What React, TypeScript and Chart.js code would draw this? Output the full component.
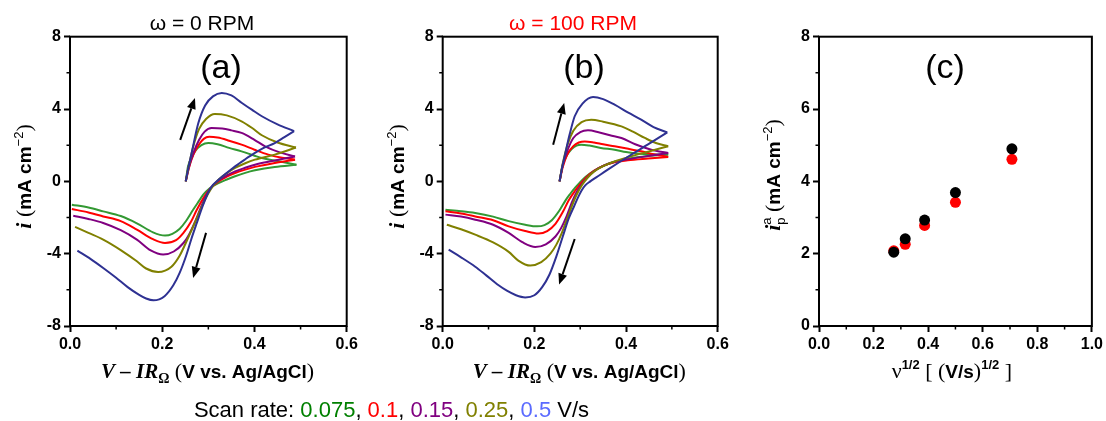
import React, { useEffect, useRef } from 'react';
import { Chart, registerables } from 'chart.js';
Chart.register(...registerables);

type P = [number, number][];

const SCAN_RATES = ['0.075', '0.1', '0.15', '0.25', '0.5'];
const CURVE_COLORS = ['#339933', '#ff0000', '#800080', '#808000', '#2e3192'];
const LEGEND_COLORS = ['#008000', '#ff0000', '#800080', '#808000', '#5b6bff'];

// ---------- Panel (a): omega = 0 RPM ----------
const A_GREEN_FWD: P = [[0.251, 0], [0.256, 0.83], [0.264, 1.3], [0.271, 1.66], [0.285, 2.0], [0.3, 2.12], [0.32, 2.05], [0.345, 1.85], [0.372, 1.66], [0.4, 1.42], [0.416, 1.29], [0.45, 1.12], [0.491, 0.92]];
const A_GREEN_REV: P = [[0.491, 0.92], [0.444, 0.8], [0.401, 0.61], [0.38, 0.47], [0.358, 0.28], [0.34, 0.1], [0.322, -0.1], [0.303, -0.38], [0.289, -0.74], [0.278, -1.15], [0.267, -1.57], [0.252, -2.18], [0.238, -2.62], [0.222, -2.9], [0.206, -3.0], [0.18, -2.82], [0.145, -2.32], [0.11, -1.92], [0.072, -1.66], [0.04, -1.45], [0.004, -1.29]];
const A_RED_FWD: P = [[0.251, 0], [0.258, 0.75], [0.268, 1.5], [0.28, 2.05], [0.29, 2.35], [0.302, 2.46], [0.32, 2.42], [0.345, 2.25], [0.372, 2.03], [0.4, 1.75], [0.43, 1.48], [0.46, 1.3], [0.488, 1.2]];
const A_RED_REV: P = [[0.488, 1.2], [0.444, 1.02], [0.401, 0.8], [0.38, 0.65], [0.358, 0.46], [0.34, 0.26], [0.322, 0.0], [0.305, -0.38], [0.29, -0.9], [0.275, -1.57], [0.262, -2.25], [0.246, -2.85], [0.23, -3.25], [0.206, -3.41], [0.18, -3.2], [0.145, -2.67], [0.11, -2.2], [0.072, -1.94], [0.04, -1.72], [0.004, -1.53]];
const A_PURPLE_FWD: P = [[0.251, 0], [0.258, 0.8], [0.268, 1.6], [0.28, 2.3], [0.292, 2.75], [0.307, 2.95], [0.33, 2.92], [0.35, 2.82], [0.372, 2.68], [0.4, 2.3], [0.423, 1.94], [0.455, 1.6], [0.488, 1.38]];
const A_PURPLE_REV: P = [[0.488, 1.38], [0.444, 1.15], [0.401, 0.92], [0.38, 0.75], [0.358, 0.55], [0.34, 0.33], [0.322, 0.05], [0.306, -0.35], [0.293, -0.9], [0.282, -1.55], [0.27, -2.3], [0.258, -2.95], [0.246, -3.41], [0.225, -3.88], [0.202, -4.05], [0.175, -3.82], [0.145, -3.22], [0.11, -2.7], [0.072, -2.3], [0.04, -2.08], [0.007, -1.9]];
const A_OLIVE_FWD: P = [[0.251, 0], [0.258, 0.9], [0.267, 1.9], [0.28, 2.9], [0.295, 3.45], [0.314, 3.73], [0.34, 3.65], [0.372, 3.32], [0.395, 2.95], [0.416, 2.55], [0.45, 2.15], [0.49, 1.87]];
const A_OLIVE_REV: P = [[0.49, 1.87], [0.444, 1.48], [0.401, 1.2], [0.38, 1.0], [0.358, 0.74], [0.34, 0.45], [0.322, 0.09], [0.306, -0.4], [0.293, -1.0], [0.28, -1.75], [0.268, -2.45], [0.253, -3.3], [0.238, -4.1], [0.22, -4.72], [0.191, -5.01], [0.165, -4.82], [0.145, -4.42], [0.11, -3.8], [0.072, -3.22], [0.04, -2.85], [0.011, -2.52]];
const A_BLUE_FWD: P = [[0.251, 0], [0.257, 0.8], [0.264, 1.6], [0.278, 3.2], [0.293, 4.2], [0.31, 4.7], [0.329, 4.89], [0.35, 4.75], [0.372, 4.35], [0.395, 3.95], [0.416, 3.6], [0.45, 3.15], [0.486, 2.78]];
const A_BLUE_REV: P = [[0.486, 2.78], [0.465, 2.45], [0.444, 2.12], [0.42, 1.85], [0.401, 1.57], [0.38, 1.22], [0.358, 0.83], [0.34, 0.47], [0.322, 0.09], [0.31, -0.2], [0.3, -0.6], [0.288, -1.35], [0.275, -2.3], [0.263, -3.2], [0.252, -4.1], [0.238, -5.05], [0.224, -5.75], [0.205, -6.35], [0.181, -6.58], [0.165, -6.48], [0.15, -6.28], [0.125, -5.85], [0.1, -5.33], [0.072, -4.79], [0.045, -4.3], [0.016, -3.83]];
const A_ARROWS: [number, number, number, number][] = [[0.239, 2.29, 0.271, 4.61], [0.295, -2.85, 0.267, -5.34]];

// ---------- Panel (b): omega = 100 RPM ----------
const B_GREEN_FWD: P = [[0.255, 0], [0.261, 0.8], [0.27, 1.4], [0.282, 1.8], [0.292, 1.98], [0.302, 2.03], [0.32, 1.98], [0.345, 1.85], [0.375, 1.75], [0.4, 1.62], [0.418, 1.55], [0.455, 1.5], [0.492, 1.48]];
const B_GREEN_REV: P = [[0.492, 1.48], [0.448, 1.4], [0.404, 1.25], [0.375, 1.08], [0.35, 0.85], [0.33, 0.58], [0.312, 0.25], [0.298, -0.1], [0.289, -0.35], [0.278, -0.7], [0.268, -1.05], [0.255, -1.6], [0.238, -2.15], [0.222, -2.42], [0.206, -2.49], [0.18, -2.4], [0.144, -2.2], [0.11, -1.95], [0.071, -1.75], [0.04, -1.65], [0.006, -1.57]];
const B_RED_FWD: P = [[0.255, 0], [0.262, 0.8], [0.272, 1.5], [0.285, 1.95], [0.297, 2.15], [0.31, 2.21], [0.33, 2.15], [0.35, 2.05], [0.375, 1.94], [0.405, 1.8], [0.433, 1.66], [0.46, 1.5], [0.492, 1.35]];
const B_RED_REV: P = [[0.492, 1.35], [0.448, 1.26], [0.404, 1.16], [0.375, 1.05], [0.35, 0.86], [0.33, 0.58], [0.313, 0.22], [0.3, -0.15], [0.288, -0.55], [0.275, -1.05], [0.262, -1.7], [0.246, -2.35], [0.228, -2.75], [0.209, -2.89], [0.18, -2.75], [0.144, -2.49], [0.11, -2.15], [0.071, -1.94], [0.04, -1.78], [0.006, -1.66]];
const B_PURPLE_FWD: P = [[0.255, 0], [0.262, 0.9], [0.272, 1.7], [0.285, 2.4], [0.3, 2.72], [0.317, 2.82], [0.34, 2.72], [0.365, 2.55], [0.39, 2.4], [0.42, 2.05], [0.455, 1.75], [0.492, 1.57]];
const B_PURPLE_REV: P = [[0.492, 1.57], [0.448, 1.4], [0.404, 1.22], [0.375, 1.08], [0.35, 0.86], [0.33, 0.56], [0.315, 0.2], [0.302, -0.2], [0.292, -0.6], [0.282, -1.15], [0.27, -1.95], [0.258, -2.6], [0.246, -3.05], [0.225, -3.48], [0.202, -3.63], [0.175, -3.38], [0.144, -2.85], [0.11, -2.4], [0.071, -2.12], [0.04, -1.95], [0.006, -1.84]];
const B_OLIVE_FWD: P = [[0.255, 0], [0.262, 1.0], [0.272, 2.0], [0.285, 2.8], [0.303, 3.28], [0.324, 3.41], [0.35, 3.3], [0.39, 3.04], [0.415, 2.75], [0.441, 2.4], [0.465, 2.12], [0.492, 1.94]];
const B_OLIVE_REV: P = [[0.492, 1.94], [0.448, 1.64], [0.404, 1.33], [0.375, 1.1], [0.35, 0.84], [0.33, 0.54], [0.316, 0.2], [0.304, -0.2], [0.293, -0.7], [0.282, -1.35], [0.271, -2.1], [0.26, -2.85], [0.248, -3.5], [0.235, -4.0], [0.215, -4.47], [0.191, -4.66], [0.165, -4.38], [0.144, -3.9], [0.11, -3.38], [0.071, -2.95], [0.04, -2.65], [0.009, -2.4]];
const B_BLUE_FWD: P = [[0.255, 0], [0.26, 0.7], [0.266, 1.38], [0.277, 2.6], [0.288, 3.6], [0.305, 4.3], [0.328, 4.67], [0.35, 4.55], [0.375, 4.24], [0.405, 3.8], [0.433, 3.41], [0.46, 3.0], [0.49, 2.71]];
const B_BLUE_REV: P = [[0.49, 2.71], [0.448, 2.04], [0.404, 1.36], [0.361, 0.66], [0.335, 0.22], [0.322, 0.0], [0.311, -0.22], [0.303, -0.5], [0.295, -0.9], [0.286, -1.42], [0.275, -2.05], [0.262, -3.05], [0.248, -4.15], [0.233, -5.15], [0.217, -5.85], [0.2, -6.3], [0.18, -6.42], [0.16, -6.3], [0.14, -6.05], [0.122, -5.75], [0.095, -5.2], [0.071, -4.72], [0.04, -4.2], [0.013, -3.78]];
const B_ARROWS: [number, number, number, number][] = [[0.241, 2.03, 0.265, 4.34], [0.288, -3.19, 0.254, -5.71]];

// ---------- Panel (c): anodic peak current vs sqrt(scan rate) ----------
const C_SQRT_RATE = [0.274, 0.316, 0.387, 0.5, 0.707];
const C_PEAK_0RPM = [2.04, 2.41, 2.93, 3.69, 4.9];
const C_PEAK_100RPM = [2.08, 2.26, 2.78, 3.42, 4.61];

// ---------- Axis ticks ----------
const CV_X_TICKS = { min: 0, max: 0.6, step: 0.2, minor: [0.1, 0.3, 0.5] };
const CV_Y_TICKS = { min: -8, max: 8, step: 4, minor: [-6, -2, 2, 6] };
const C_X_TICKS = { min: 0, max: 1.0, step: 0.2, minor: [0.1, 0.3, 0.5, 0.7, 0.9] };
const C_Y_TICKS = { min: 0, max: 8, step: 2, minor: [1, 3, 5, 7] };

const H = 421;
const PLOT_TOP = 36.7;
const PLOT_BOTTOM = 326;
const SANS = '"Liberation Sans", Arial, sans-serif';
const SERIF = '"Liberation Serif", "Times New Roman", serif';

type Seg = { t: string; f: string; dy?: number; noAdv?: boolean; color?: string };

function drawRich(ctx: CanvasRenderingContext2D, segs: Seg[], cx: number, cy: number, rotate = false) {
  ctx.save();
  ctx.translate(cx, cy);
  if (rotate) ctx.rotate(-Math.PI / 2);
  ctx.textBaseline = 'alphabetic';
  ctx.textAlign = 'left';
  const widths = segs.map((s) => {
    ctx.font = s.f;
    return ctx.measureText(s.t).width;
  });
  let total = 0;
  segs.forEach((s, i) => {
    if (!s.noAdv) total += widths[i];
  });
  let x = -total / 2;
  segs.forEach((s, i) => {
    ctx.font = s.f;
    ctx.fillStyle = s.color || '#000';
    ctx.fillText(s.t, x, s.dy || 0);
    if (!s.noAdv) x += widths[i];
  });
  ctx.restore();
}

type Decor = {
  xMinor: number[];
  yMinor: number[];
  arrows?: [number, number, number, number][];
  title?: { text: string; color: string; fx: number };
  label: { text: string; fx: number };
  xTitle: Seg[];
  xTitleFx: number;
  yTitle: Seg[];
  yTitleCy: number;
};

function makeDecorPlugin(d: Decor) {
  return {
    id: 'decor',
    afterDraw(chart: any) {
      const ctx: CanvasRenderingContext2D = chart.ctx;
      const a = chart.chartArea;
      const xs = chart.scales.x;
      const ys = chart.scales.y;
      ctx.save();
      ctx.strokeStyle = '#000';
      ctx.lineWidth = 2;
      ctx.strokeRect(a.left, a.top, a.right - a.left, a.bottom - a.top);
      ctx.lineWidth = 1.5;
      ctx.beginPath();
      d.xMinor.forEach((v) => {
        const px = xs.getPixelForValue(v);
        ctx.moveTo(px, a.bottom);
        ctx.lineTo(px, a.bottom + 3.5);
      });
      d.yMinor.forEach((v) => {
        const py = ys.getPixelForValue(v);
        ctx.moveTo(a.left, py);
        ctx.lineTo(a.left - 3.5, py);
      });
      ctx.stroke();
      (d.arrows || []).forEach(([x0, y0, x1, y1]) => {
        const p0x = xs.getPixelForValue(x0), p0y = ys.getPixelForValue(y0);
        const p1x = xs.getPixelForValue(x1), p1y = ys.getPixelForValue(y1);
        const ang = Math.atan2(p1y - p0y, p1x - p0x);
        const hl = 11, hw = 4.5;
        const bx = p1x - hl * Math.cos(ang), by = p1y - hl * Math.sin(ang);
        ctx.strokeStyle = '#000';
        ctx.lineWidth = 2;
        ctx.beginPath();
        ctx.moveTo(p0x, p0y);
        ctx.lineTo(bx, by);
        ctx.stroke();
        ctx.fillStyle = '#000';
        ctx.beginPath();
        ctx.moveTo(p1x, p1y);
        ctx.lineTo(bx + hw * Math.sin(ang), by - hw * Math.cos(ang));
        ctx.lineTo(bx - hw * Math.sin(ang), by + hw * Math.cos(ang));
        ctx.closePath();
        ctx.fill();
      });
      const w = a.right - a.left;
      if (d.title) {
        ctx.font = `21px ${SANS}`;
        ctx.fillStyle = d.title.color;
        ctx.textAlign = 'center';
        ctx.textBaseline = 'alphabetic';
        ctx.fillText(d.title.text, a.left + d.title.fx * w, 29.5);
      }
      ctx.font = `34px ${SANS}`;
      ctx.fillStyle = '#000';
      ctx.textAlign = 'center';
      ctx.textBaseline = 'alphabetic';
      ctx.fillText(d.label.text, a.left + d.label.fx * w, 78);
      ctx.restore();
      drawRich(ctx, d.xTitle, a.left + d.xTitleFx * w, 377.5);
      drawRich(ctx, d.yTitle, a.left - 39, d.yTitleCy, true);
    },
  };
}

function toPts(p: P) {
  return p.map(([x, y]) => ({ x, y }));
}

function cvDatasets(curves: { fwd: P; rev: P }[]) {
  const ds: any[] = [];
  for (let i = curves.length - 1; i >= 0; i--) {
    [curves[i].fwd, curves[i].rev].forEach((branch) => {
      ds.push({
        label: SCAN_RATES[i],
        data: toPts(branch),
        showLine: true,
        borderColor: CURVE_COLORS[i],
        backgroundColor: CURVE_COLORS[i],
        borderWidth: 2,
        pointRadius: 0,
        cubicInterpolationMode: 'monotone',
        fill: false,
      });
    });
  }
  return ds;
}

function axisOptions(t: { min: number; max: number; step: number }, isX: boolean, fitSize: number, decimals: number) {
  return {
    type: 'linear',
    position: isX ? 'bottom' : 'left',
    min: t.min,
    max: t.max,
    border: { display: false },
    grid: { drawOnChartArea: false, drawTicks: true, tickLength: 6, tickWidth: 2, tickColor: '#000' },
    ticks: {
      stepSize: t.step,
      color: '#000',
      font: { family: SANS, weight: 'bold', size: 16 },
      padding: 3,
      autoSkip: false,
      maxRotation: 0,
      callback: (v: any) => Number(v).toFixed(decimals),
    },
    afterFit: (s: any) => {
      if (isX) s.height = fitSize;
      else s.width = fitSize;
    },
  };
}

function makeOptions(xt: any, yt: any, plotLeft: number, plotRight: number, canvasW: number, xDec: number) {
  return {
    animation: false,
    responsive: false,
    maintainAspectRatio: false,
    layout: { padding: { left: 0, right: canvasW - plotRight, top: PLOT_TOP, bottom: 0 } },
    plugins: { legend: { display: false }, tooltip: { enabled: false }, title: { display: false } },
    scales: {
      x: axisOptions(xt, true, H - PLOT_BOTTOM, xDec),
      y: axisOptions(yt, false, plotLeft, 0),
    },
  };
}

const CV_X_TITLE: Seg[] = [
  { t: 'V – IR', f: `italic bold 21px ${SERIF}` },
  { t: 'Ω', f: `bold 14px ${SERIF}`, dy: 5 },
  { t: ' (', f: `22px ${SERIF}` },
  { t: 'V vs. Ag/AgCl', f: `bold 19px ${SANS}` },
  { t: ')', f: `22px ${SERIF}` },
];
const CV_Y_TITLE: Seg[] = [
  { t: 'i', f: `italic bold 22px ${SERIF}` },
  { t: ' (', f: `22px ${SERIF}` },
  { t: 'mA cm', f: `bold 19px ${SANS}` },
  { t: '−2', f: `13px ${SANS}`, dy: -8 },
  { t: ')', f: `22px ${SERIF}` },
];
const C_X_TITLE: Seg[] = [
  { t: 'ν', f: `22px ${SERIF}` },
  { t: '1/2', f: `bold 13px ${SANS}`, dy: -9 },
  { t: ' [ (', f: `22px ${SERIF}` },
  { t: 'V/s', f: `bold 19px ${SANS}` },
  { t: ')', f: `22px ${SERIF}` },
  { t: '1/2', f: `bold 13px ${SANS}`, dy: -9 },
  { t: ' ]', f: `22px ${SERIF}` },
];
const C_Y_TITLE: Seg[] = [
  { t: 'i', f: `italic bold 22px ${SERIF}` },
  { t: 'a', f: `13px ${SANS}`, dy: -9, noAdv: true },
  { t: 'p', f: `13px ${SANS}`, dy: 5 },
  { t: ' (', f: `22px ${SERIF}` },
  { t: 'mA cm', f: `bold 19px ${SANS}` },
  { t: '−2', f: `13px ${SANS}`, dy: -8 },
  { t: ')', f: `22px ${SERIF}` },
];

function Panel(props: { left: number; width: number; config: () => any }) {
  const ref = useRef<HTMLCanvasElement | null>(null);
  useEffect(() => {
    if (!ref.current) return;
    const chart = new Chart(ref.current, props.config());
    return () => chart.destroy();
  }, []);
  return (
    <canvas
      ref={ref}
      width={props.width}
      height={H}
      style={{ position: 'absolute', left: props.left, top: 0, width: props.width, height: H }}
    />
  );
}

const configA = () => ({
  type: 'scatter',
  data: {
    datasets: cvDatasets([
      { fwd: A_GREEN_FWD, rev: A_GREEN_REV },
      { fwd: A_RED_FWD, rev: A_RED_REV },
      { fwd: A_PURPLE_FWD, rev: A_PURPLE_REV },
      { fwd: A_OLIVE_FWD, rev: A_OLIVE_REV },
      { fwd: A_BLUE_FWD, rev: A_BLUE_REV },
    ]),
  },
  options: makeOptions(CV_X_TICKS, CV_Y_TICKS, 70, 346.7, 370, 1),
  plugins: [
    makeDecorPlugin({
      xMinor: CV_X_TICKS.minor,
      yMinor: CV_Y_TICKS.minor,
      arrows: A_ARROWS,
      title: { text: 'ω = 0 RPM', color: '#000', fx: 0.477 },
      label: { text: '(a)', fx: 0.546 },
      xTitle: CV_X_TITLE,
      xTitleFx: 0.497,
      yTitle: CV_Y_TITLE,
      yTitleCy: 176.5,
    }),
  ],
});

const configB = () => ({
  type: 'scatter',
  data: {
    datasets: cvDatasets([
      { fwd: B_GREEN_FWD, rev: B_GREEN_REV },
      { fwd: B_RED_FWD, rev: B_RED_REV },
      { fwd: B_PURPLE_FWD, rev: B_PURPLE_REV },
      { fwd: B_OLIVE_FWD, rev: B_OLIVE_REV },
      { fwd: B_BLUE_FWD, rev: B_BLUE_REV },
    ]),
  },
  options: makeOptions(CV_X_TICKS, CV_Y_TICKS, 72.7, 347.7, 370, 1),
  plugins: [
    makeDecorPlugin({
      xMinor: CV_X_TICKS.minor,
      yMinor: CV_Y_TICKS.minor,
      arrows: B_ARROWS,
      title: { text: 'ω = 100 RPM', color: '#ff0000', fx: 0.474 },
      label: { text: '(b)', fx: 0.514 },
      xTitle: CV_X_TITLE,
      xTitleFx: 0.497,
      yTitle: CV_Y_TITLE,
      yTitleCy: 176.5,
    }),
  ],
});

const configC = () => ({
  type: 'scatter',
  data: {
    datasets: [
      {
        label: '0 RPM',
        data: C_SQRT_RATE.map((x, i) => ({ x, y: C_PEAK_0RPM[i] })),
        pointRadius: 5.5,
        pointBackgroundColor: '#000',
        pointBorderWidth: 0,
        showLine: false,
      },
      {
        label: '100 RPM',
        data: C_SQRT_RATE.map((x, i) => ({ x, y: C_PEAK_100RPM[i] })),
        pointRadius: 5.5,
        pointBackgroundColor: '#ff0000',
        pointBorderWidth: 0,
        showLine: false,
      },
    ],
  },
  options: makeOptions(C_X_TICKS, C_Y_TICKS, 79, 354, 366, 1),
  plugins: [
    makeDecorPlugin({
      xMinor: C_X_TICKS.minor,
      yMinor: C_Y_TICKS.minor,
      label: { text: '(c)', fx: 0.462 },
      xTitle: C_X_TITLE,
      xTitleFx: 0.487,
      yTitle: C_Y_TITLE,
      yTitleCy: 175,
    }),
  ],
});

export default function App() {
  return (
    <div style={{ position: 'absolute', left: 0, top: 0, width: 1106, height: H, background: '#fff', overflow: 'hidden' }}>
      <Panel left={0} width={370} config={configA} />
      <Panel left={370} width={370} config={configB} />
      <Panel left={740} width={366} config={configC} />
      <div
        style={{
          position: 'absolute',
          left: 0,
          top: 399,
          width: 783,
          textAlign: 'center',
          fontFamily: SANS,
          fontSize: 22,
          lineHeight: '22px',
          whiteSpace: 'nowrap',
          color: '#000',
        }}
      >
        Scan rate:{' '}
        {SCAN_RATES.map((r, i) => (
          <React.Fragment key={r}>
            <span style={{ color: LEGEND_COLORS[i] }}>{r}</span>
            {i < SCAN_RATES.length - 1 ? ', ' : ' '}
          </React.Fragment>
        ))}
        V/s
      </div>
    </div>
  );
}
